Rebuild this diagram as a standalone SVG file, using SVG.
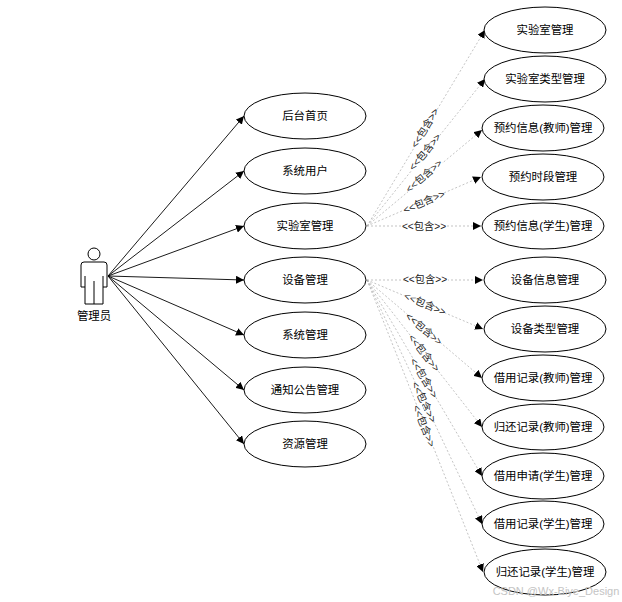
<svg xmlns="http://www.w3.org/2000/svg" width="622" height="602" viewBox="0 0 622 602">
<style>
text{font-family:"Liberation Sans","Noto Sans CJK SC",sans-serif;font-size:11.4px;fill:#000;text-anchor:middle;dominant-baseline:central}
ellipse{fill:#fff;stroke:#000;stroke-width:1}
.a{stroke:#000;stroke-width:.9;fill:none;marker-end:url(#f)}
.d{stroke:#aaa;stroke-width:.7;stroke-dasharray:2 2;fill:none;marker-end:url(#f)}
.l{font-size:10.2px;fill:#222}
.wm{font-size:11px;fill:#c4c4c4}
.bg{fill:#fff}
</style>
<defs><marker id="f" markerUnits="userSpaceOnUse" markerWidth="9" markerHeight="8" refX="8" refY="4" orient="auto"><path d="M0 0L8 4L0 8Z" fill="#000"/></marker></defs>
<rect width="622" height="602" fill="#fff"/>
<g id="connectors">
<path class="a" d="M108 276L244 116"/>
<path class="a" d="M108 276L244 171"/>
<path class="a" d="M108 276L244 226"/>
<path class="a" d="M108 276L244 280"/>
<path class="a" d="M108 276L244 335"/>
<path class="a" d="M108 276L244 390"/>
<path class="a" d="M108 276L244 444"/>
<path class="d" d="M367 226L485 30"/>
<path class="d" d="M367 226L485 79"/>
<path class="d" d="M367 226L482 130"/>
<path class="d" d="M367 226L481 177"/>
<path class="d" d="M367 226L481 226"/>
<path class="d" d="M367 280L483 280"/>
<path class="d" d="M367 280L483 329"/>
<path class="d" d="M367 280L482 378"/>
<path class="d" d="M367 280L482 427"/>
<path class="d" d="M367 280L482 476"/>
<path class="d" d="M367 280L482 524"/>
<path class="d" d="M367 280L483 572"/>
<g>
<rect class="bg" x="402" y="220" width="44" height="12"/><text class="l" x="424" y="226">&lt;&lt;包含&gt;&gt;</text>
<g transform="translate(424 202) rotate(-23)"><rect class="bg" x="-22" y="-6" width="44" height="12"/><text class="l">&lt;&lt;包含&gt;&gt;</text></g>
<g transform="translate(424 176) rotate(-41)"><rect class="bg" x="-22" y="-6" width="44" height="12"/><text class="l">&lt;&lt;包含&gt;&gt;</text></g>
<g transform="translate(425 152) rotate(-51)"><rect class="bg" x="-22" y="-6" width="44" height="12"/><text class="l">&lt;&lt;包含&gt;&gt;</text></g>
<g transform="translate(425 128) rotate(-59)"><rect class="bg" x="-22" y="-6" width="44" height="12"/><text class="l">&lt;&lt;包含&gt;&gt;</text></g>
<rect class="bg" x="404" y="274" width="44" height="12"/><text class="l" x="425" y="279">&lt;&lt;包含&gt;&gt;</text>
<g transform="translate(425 304) rotate(23)"><rect class="bg" x="-22" y="-6" width="44" height="12"/><text class="l">&lt;&lt;包含&gt;&gt;</text></g>
<g transform="translate(424 329) rotate(40)"><rect class="bg" x="-22" y="-6" width="44" height="12"/><text class="l">&lt;&lt;包含&gt;&gt;</text></g>
<g transform="translate(424 353) rotate(52)"><rect class="bg" x="-22" y="-6" width="44" height="12"/><text class="l">&lt;&lt;包含&gt;&gt;</text></g>
<g transform="translate(424 378) rotate(59)"><rect class="bg" x="-22" y="-6" width="44" height="12"/><text class="l">&lt;&lt;包含&gt;&gt;</text></g>
<g transform="translate(424 402) rotate(64)"><rect class="bg" x="-22" y="-6" width="44" height="12"/><text class="l">&lt;&lt;包含&gt;&gt;</text></g>
<g transform="translate(424 426) rotate(68)"><rect class="bg" x="-22" y="-6" width="44" height="12"/><text class="l">&lt;&lt;包含&gt;&gt;</text></g>
</g>
</g>
<g id="actor">
<circle cx="94" cy="254" r="6" fill="#fff" stroke="#000"/>
<path d="M84 262H104Q107 262 107 265V287H103V304H85V287H81V265Q81 262 84 262ZM85 276V287M103 276V287M94 281V304" fill="#fff" stroke="#000"/>
<text x="94" y="316">管理员</text>
</g>
<g id="n1"><ellipse cx="305" cy="116" rx="61" ry="23"/><text x="305" y="116">后台首页</text></g>
<g id="n2"><ellipse cx="305" cy="171" rx="61" ry="23"/><text x="305" y="171">系统用户</text></g>
<g id="n3"><ellipse cx="305" cy="226" rx="61" ry="23"/><text x="305" y="226">实验室管理</text></g>
<g id="n4"><ellipse cx="305" cy="280" rx="61" ry="23"/><text x="305" y="280">设备管理</text></g>
<g id="n5"><ellipse cx="305" cy="335" rx="61" ry="23"/><text x="305" y="335">系统管理</text></g>
<g id="n6"><ellipse cx="305" cy="390" rx="61" ry="23"/><text x="305" y="390">通知公告管理</text></g>
<g id="n7"><ellipse cx="305" cy="444" rx="61" ry="23"/><text x="305" y="444">资源管理</text></g>
<g id="r1"><ellipse cx="545" cy="30" rx="61" ry="23"/><text x="545" y="30">实验室管理</text></g>
<g id="r2"><ellipse cx="545" cy="79" rx="61" ry="23"/><text x="545" y="79">实验室类型管理</text></g>
<g id="r3"><ellipse cx="543" cy="128" rx="61" ry="23"/><text x="543" y="128">预约信息(教师)管理</text></g>
<g id="r4"><ellipse cx="543" cy="177" rx="61" ry="23"/><text x="543" y="177">预约时段管理</text></g>
<g id="r5"><ellipse cx="543" cy="226" rx="61" ry="23"/><text x="543" y="226">预约信息(学生)管理</text></g>
<g id="r6"><ellipse cx="545" cy="280" rx="61" ry="23"/><text x="545" y="280">设备信息管理</text></g>
<g id="r7"><ellipse cx="545" cy="329" rx="61" ry="23"/><text x="545" y="329">设备类型管理</text></g>
<g id="r8"><ellipse cx="543" cy="378" rx="61" ry="23"/><text x="543" y="378">借用记录(教师)管理</text></g>
<g id="r9"><ellipse cx="543" cy="427" rx="61" ry="23"/><text x="543" y="427">归还记录(教师)管理</text></g>
<g id="r10"><ellipse cx="543" cy="476" rx="61" ry="23"/><text x="543" y="476">借用申请(学生)管理</text></g>
<g id="r11"><ellipse cx="543" cy="524" rx="61" ry="23"/><text x="543" y="524">借用记录(学生)管理</text></g>
<g id="r12"><ellipse cx="545" cy="572" rx="61" ry="23"/><text x="545" y="572">归还记录(学生)管理</text></g>
<text class="wm" x="556" y="591">CSDN @Wx-Biye_Design</text>
</svg>
